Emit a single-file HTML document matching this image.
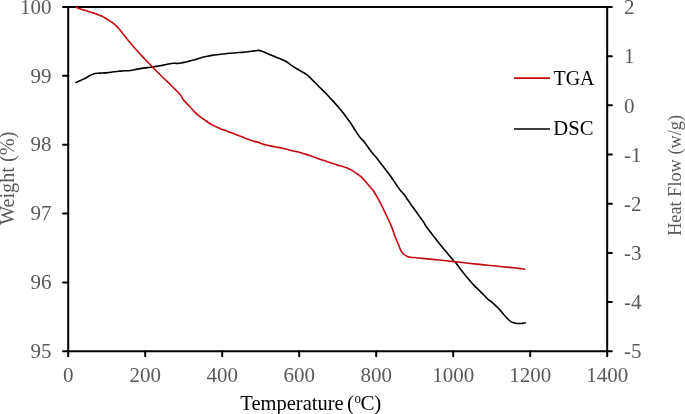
<!DOCTYPE html>
<html><head><meta charset="utf-8"><style>
html,body{margin:0;padding:0;background:#fff;}
body{width:685px;height:414px;overflow:hidden;}
svg{display:block;will-change:transform;font-family:"Liberation Serif",serif;font-size:21px;}
</style></head><body>
<svg width="685" height="414" viewBox="0 0 685 414">
<rect width="685" height="414" fill="#fff"/>
<g stroke="#000" stroke-width="2" stroke-linecap="round" fill="none">
<line x1="68.2" y1="7.0" x2="68.2" y2="356.2"/>
<line x1="607.2" y1="7.0" x2="607.2" y2="356.2"/>
<line x1="63.0" y1="7.0" x2="611.9" y2="7.0"/>
<line x1="63.0" y1="351.3" x2="611.9" y2="351.3"/>
<line x1="63.0" y1="75.86" x2="68.2" y2="75.86"/>
<line x1="63.0" y1="144.72" x2="68.2" y2="144.72"/>
<line x1="63.0" y1="213.58" x2="68.2" y2="213.58"/>
<line x1="63.0" y1="282.44" x2="68.2" y2="282.44"/>
<line x1="607.2" y1="56.19" x2="611.9" y2="56.19"/>
<line x1="607.2" y1="105.37" x2="611.9" y2="105.37"/>
<line x1="607.2" y1="154.56" x2="611.9" y2="154.56"/>
<line x1="607.2" y1="203.74" x2="611.9" y2="203.74"/>
<line x1="607.2" y1="252.93" x2="611.9" y2="252.93"/>
<line x1="607.2" y1="302.11" x2="611.9" y2="302.11"/>
<line x1="145.20" y1="351.3" x2="145.20" y2="356.2"/>
<line x1="222.20" y1="351.3" x2="222.20" y2="356.2"/>
<line x1="299.20" y1="351.3" x2="299.20" y2="356.2"/>
<line x1="376.20" y1="351.3" x2="376.20" y2="356.2"/>
<line x1="453.20" y1="351.3" x2="453.20" y2="356.2"/>
<line x1="530.20" y1="351.3" x2="530.20" y2="356.2"/>
</g>
<path d="M76.00,82.40 C76.63,82.13 78.53,81.35 79.80,80.80 C81.07,80.25 82.33,79.73 83.60,79.10 C84.87,78.47 86.22,77.67 87.40,77.00 C88.58,76.33 89.70,75.62 90.70,75.10 C91.70,74.58 92.32,74.20 93.40,73.90 C94.48,73.60 95.67,73.45 97.20,73.30 C98.73,73.15 100.80,73.12 102.60,73.00 C104.40,72.88 106.18,72.80 108.00,72.60 C109.82,72.40 111.68,72.02 113.50,71.80 C115.32,71.58 117.10,71.47 118.90,71.30 C120.70,71.13 122.38,70.93 124.30,70.80 C126.22,70.67 128.17,70.78 130.40,70.50 C132.63,70.22 134.88,69.58 137.70,69.10 C140.52,68.62 144.82,67.97 147.30,67.60 C149.78,67.23 150.98,67.15 152.60,66.90 C154.22,66.65 155.77,66.28 157.00,66.10 C158.23,65.92 158.50,66.07 160.00,65.80 C161.50,65.53 164.33,64.83 166.00,64.50 C167.67,64.17 168.78,64.02 170.00,63.80 C171.22,63.58 172.30,63.27 173.30,63.20 C174.30,63.13 175.20,63.37 176.00,63.40 C176.80,63.43 177.27,63.47 178.10,63.40 C178.93,63.33 179.98,63.17 181.00,63.00 C182.02,62.83 183.20,62.62 184.20,62.40 C185.20,62.18 186.00,61.95 187.00,61.70 C188.00,61.45 188.87,61.22 190.20,60.90 C191.53,60.58 193.20,60.32 195.00,59.80 C196.80,59.28 198.98,58.38 201.00,57.80 C203.02,57.22 205.08,56.75 207.10,56.30 C209.12,55.85 211.08,55.40 213.10,55.10 C215.12,54.80 217.18,54.73 219.20,54.50 C221.22,54.27 223.40,53.92 225.20,53.70 C227.00,53.48 228.20,53.37 230.00,53.20 C231.80,53.03 233.98,52.83 236.00,52.70 C238.02,52.57 240.08,52.55 242.10,52.40 C244.12,52.25 246.08,52.05 248.10,51.80 C250.12,51.55 252.48,51.13 254.20,50.90 C255.92,50.67 257.20,50.40 258.40,50.40 C259.60,50.40 260.08,50.47 261.40,50.90 C262.72,51.33 264.50,52.22 266.30,53.00 C268.10,53.78 270.00,54.68 272.20,55.60 C274.40,56.52 277.32,57.60 279.50,58.50 C281.68,59.40 283.48,59.98 285.30,61.00 C287.12,62.02 288.35,63.22 290.40,64.60 C292.45,65.98 295.17,67.82 297.60,69.30 C300.03,70.78 303.27,72.45 305.00,73.50 C306.73,74.55 306.85,74.60 308.00,75.60 C309.15,76.60 310.62,78.22 311.90,79.50 C313.18,80.78 314.42,82.02 315.70,83.30 C316.98,84.58 317.98,85.60 319.60,87.20 C321.22,88.80 323.83,91.32 325.40,92.90 C326.97,94.48 327.80,95.42 329.00,96.70 C330.20,97.98 331.40,99.28 332.60,100.60 C333.80,101.92 334.98,103.22 336.20,104.60 C337.42,105.98 338.68,107.45 339.90,108.90 C341.12,110.35 342.30,111.73 343.50,113.30 C344.70,114.87 345.93,116.70 347.10,118.30 C348.27,119.90 349.22,121.00 350.50,122.90 C351.78,124.80 353.27,127.37 354.80,129.70 C356.33,132.03 358.08,134.82 359.70,136.90 C361.32,138.98 362.90,140.18 364.50,142.20 C366.10,144.22 367.68,146.82 369.30,149.00 C370.92,151.18 373.17,154.07 374.20,155.30 C375.23,156.53 374.57,155.25 375.50,156.40 C376.43,157.55 378.27,160.18 379.80,162.20 C381.33,164.22 383.08,166.40 384.70,168.50 C386.32,170.60 387.90,172.62 389.50,174.80 C391.10,176.98 392.85,179.50 394.30,181.60 C395.75,183.70 397.07,185.80 398.20,187.40 C399.33,189.00 400.15,190.05 401.10,191.20 C402.05,192.35 402.80,192.88 403.90,194.30 C405.00,195.72 406.42,197.83 407.70,199.70 C408.98,201.57 410.30,203.65 411.60,205.50 C412.90,207.35 414.22,209.03 415.50,210.80 C416.78,212.57 417.85,214.08 419.30,216.10 C420.75,218.12 423.17,221.33 424.20,222.90 C425.23,224.47 424.57,224.10 425.50,225.50 C426.43,226.90 428.27,229.28 429.80,231.30 C431.33,233.32 433.08,235.52 434.70,237.60 C436.32,239.68 437.90,241.80 439.50,243.80 C441.10,245.80 442.68,247.67 444.30,249.60 C445.92,251.53 447.58,253.47 449.20,255.40 C450.82,257.33 452.95,260.03 454.00,261.20 C455.05,262.37 454.53,261.23 455.50,262.40 C456.47,263.57 458.27,266.18 459.80,268.20 C461.33,270.22 463.08,272.48 464.70,274.50 C466.32,276.52 467.90,278.45 469.50,280.30 C471.10,282.15 472.68,283.92 474.30,285.60 C475.92,287.28 477.58,288.78 479.20,290.40 C480.82,292.02 482.48,293.77 484.00,295.30 C485.52,296.83 487.23,298.67 488.30,299.60 C489.37,300.53 489.13,299.87 490.40,300.90 C491.67,301.93 494.35,304.35 495.90,305.80 C497.45,307.25 498.25,307.98 499.70,309.60 C501.15,311.22 502.88,313.60 504.60,315.50 C506.32,317.40 508.65,319.85 510.00,321.00 C511.35,322.15 511.80,322.03 512.70,322.40 C513.60,322.77 514.03,323.02 515.40,323.20 C516.77,323.38 519.27,323.57 520.90,323.50 C522.53,323.43 524.48,322.92 525.20,322.80" fill="none" stroke="#000" stroke-width="1.6" stroke-linejoin="round" stroke-linecap="round"/>
<path d="M76.10,7.00 C76.35,7.17 76.87,7.65 77.60,8.00 C78.33,8.35 79.42,8.75 80.50,9.10 C81.58,9.45 82.90,9.75 84.10,10.10 C85.30,10.45 86.48,10.83 87.70,11.20 C88.92,11.57 90.18,11.93 91.40,12.30 C92.62,12.67 93.80,12.97 95.00,13.40 C96.20,13.83 97.40,14.43 98.60,14.90 C99.80,15.37 100.97,15.60 102.20,16.20 C103.43,16.80 104.78,17.75 106.00,18.50 C107.22,19.25 108.12,19.77 109.50,20.70 C110.88,21.63 112.85,22.90 114.30,24.10 C115.75,25.30 116.90,26.47 118.20,27.90 C119.50,29.33 120.82,31.10 122.10,32.70 C123.38,34.30 124.62,35.92 125.90,37.50 C127.18,39.08 128.52,40.65 129.80,42.20 C131.08,43.75 131.97,44.92 133.60,46.80 C135.23,48.68 137.63,51.33 139.60,53.50 C141.57,55.67 143.23,57.53 145.40,59.80 C147.57,62.07 150.35,64.82 152.60,67.10 C154.85,69.38 156.87,71.47 158.90,73.50 C160.93,75.53 163.00,77.55 164.80,79.30 C166.60,81.05 168.08,82.42 169.70,84.00 C171.32,85.58 172.90,87.18 174.50,88.80 C176.10,90.42 178.17,92.48 179.30,93.70 C180.43,94.92 180.65,95.13 181.30,96.10 C181.95,97.07 182.40,98.37 183.20,99.50 C184.00,100.63 185.05,101.77 186.10,102.90 C187.15,104.03 188.05,104.77 189.50,106.30 C190.95,107.83 193.10,110.42 194.80,112.10 C196.50,113.78 198.08,115.12 199.70,116.40 C201.32,117.68 202.90,118.67 204.50,119.80 C206.10,120.93 207.68,122.18 209.30,123.20 C210.92,124.22 212.58,125.08 214.20,125.90 C215.82,126.72 217.40,127.40 219.00,128.10 C220.60,128.80 222.30,129.55 223.80,130.10 C225.30,130.65 226.50,130.87 228.00,131.40 C229.50,131.93 231.18,132.67 232.80,133.30 C234.42,133.93 236.08,134.57 237.70,135.20 C239.32,135.83 240.90,136.47 242.50,137.10 C244.10,137.73 245.68,138.40 247.30,139.00 C248.92,139.60 250.58,140.22 252.20,140.70 C253.82,141.18 255.88,141.62 257.00,141.90 C258.12,142.18 258.18,142.12 258.90,142.40 C259.62,142.68 260.37,143.23 261.30,143.60 C262.23,143.97 263.38,144.32 264.50,144.60 C265.62,144.88 267.02,145.08 268.00,145.30 C268.98,145.52 269.08,145.62 270.40,145.90 C271.72,146.18 274.08,146.65 275.90,147.00 C277.72,147.35 279.50,147.62 281.30,148.00 C283.10,148.38 284.88,148.83 286.70,149.30 C288.52,149.77 290.38,150.38 292.20,150.80 C294.02,151.22 296.30,151.52 297.60,151.80 C298.90,152.08 298.80,152.13 300.00,152.50 C301.20,152.87 303.18,153.48 304.80,154.00 C306.42,154.52 308.08,155.05 309.70,155.60 C311.32,156.15 312.90,156.73 314.50,157.30 C316.10,157.87 317.70,158.45 319.30,159.00 C320.90,159.55 322.48,160.07 324.10,160.60 C325.72,161.13 327.27,161.63 329.00,162.20 C330.73,162.77 333.00,163.50 334.50,164.00 C336.00,164.50 336.62,164.78 338.00,165.20 C339.38,165.62 341.18,165.98 342.80,166.50 C344.42,167.02 346.08,167.62 347.70,168.30 C349.32,168.98 350.90,169.65 352.50,170.60 C354.10,171.55 355.68,172.78 357.30,174.00 C358.92,175.22 360.58,176.37 362.20,177.90 C363.82,179.43 365.40,181.35 367.00,183.20 C368.60,185.05 370.82,187.87 371.80,189.00 C372.78,190.13 372.23,189.03 372.90,190.00 C373.57,190.97 374.67,192.87 375.80,194.80 C376.93,196.73 378.42,199.18 379.70,201.60 C380.98,204.02 382.22,206.65 383.50,209.30 C384.78,211.95 386.27,215.08 387.40,217.50 C388.53,219.92 389.42,221.78 390.30,223.80 C391.18,225.82 391.97,227.63 392.70,229.60 C393.43,231.57 393.73,233.07 394.70,235.60 C395.67,238.13 397.47,242.30 398.50,244.80 C399.53,247.30 400.08,249.07 400.90,250.60 C401.72,252.13 402.35,253.03 403.40,254.00 C404.45,254.97 406.02,255.87 407.20,256.40 C408.38,256.93 408.87,256.97 410.50,257.20 C412.13,257.43 414.58,257.57 417.00,257.80 C419.42,258.03 421.35,258.23 425.00,258.60 C428.65,258.97 434.73,259.57 438.90,260.00 C443.07,260.43 446.48,260.82 450.00,261.20 C453.52,261.58 455.55,261.82 460.00,262.30 C464.45,262.78 472.10,263.62 476.70,264.10 C481.30,264.58 483.97,264.83 487.60,265.20 C491.23,265.57 494.87,265.93 498.50,266.30 C502.13,266.67 506.37,267.10 509.40,267.40 C512.43,267.70 514.52,267.87 516.70,268.10 C518.88,268.33 521.17,268.58 522.50,268.80 C523.83,269.02 524.33,269.30 524.70,269.40" fill="none" stroke="#C4090E" stroke-width="1.6" stroke-linejoin="round" stroke-linecap="round"/>
<line x1="514" y1="78.1" x2="550" y2="78.1" stroke="#C4090E" stroke-width="1.6"/>
<line x1="514" y1="129" x2="550" y2="129" stroke="#000" stroke-width="1.6"/>
<g>
<text x="51.5" y="13.7" text-anchor="end" fill="#595959">100</text>
<text x="51.5" y="82.6" text-anchor="end" fill="#595959">99</text>
<text x="51.5" y="151.4" text-anchor="end" fill="#595959">98</text>
<text x="51.5" y="220.3" text-anchor="end" fill="#595959">97</text>
<text x="51.5" y="289.1" text-anchor="end" fill="#595959">96</text>
<text x="51.5" y="358.0" text-anchor="end" fill="#595959">95</text>
<text x="624" y="14.1" fill="#595959">2</text>
<text x="624" y="63.3" fill="#595959">1</text>
<text x="624" y="112.5" fill="#595959">0</text>
<text x="624" y="161.7" fill="#595959">-1</text>
<text x="624" y="210.8" fill="#595959">-2</text>
<text x="624" y="260.0" fill="#595959">-3</text>
<text x="624" y="309.2" fill="#595959">-4</text>
<text x="624" y="358.4" fill="#595959">-5</text>
<text x="68.2" y="381.6" text-anchor="middle" fill="#595959">0</text>
<text x="145.2" y="381.6" text-anchor="middle" fill="#595959">200</text>
<text x="222.2" y="381.6" text-anchor="middle" fill="#595959">400</text>
<text x="299.2" y="381.6" text-anchor="middle" fill="#595959">600</text>
<text x="376.2" y="381.6" text-anchor="middle" fill="#595959">800</text>
<text x="453.2" y="381.6" text-anchor="middle" fill="#595959">1000</text>
<text x="530.2" y="381.6" text-anchor="middle" fill="#595959">1200</text>
<text x="607.2" y="381.6" text-anchor="middle" fill="#595959">1400</text>
</g>
<g fill="#000">
<text transform="translate(553.5,84.7) scale(0.95,1)">TGA</text>
<text transform="translate(553.3,135.2) scale(0.985,1)">DSC</text>
<text transform="translate(240.3,409.9) scale(0.977,1)">Temperature</text>
<text x="347.1" y="409.9">(</text>
<text transform="translate(354.6,403.4) scale(1.22,1)" font-size="10.6">0</text>
<text x="360.4" y="409.9">C</text>
<text x="374.2" y="409.9">)</text>
</g>
<text transform="translate(14.1,225) rotate(-90)" font-size="20.25" fill="#595959">Weight (%)</text>
<text transform="translate(681.3,235.85) rotate(-90)" font-size="18.3" fill="#595959">Heat Flow (w/g)</text>
</svg>
</body></html>
